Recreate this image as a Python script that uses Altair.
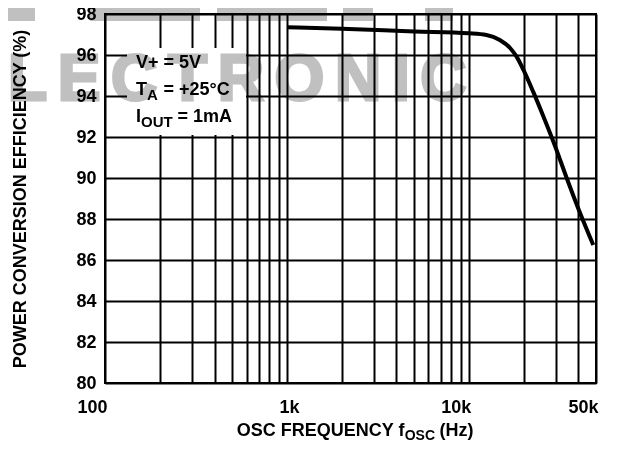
import altair as alt
import pandas as pd

# ---- data ----
FREQ = [1000, 2000, 5000, 10000, 12500, 14800, 16900, 18300, 19900, 22600, 25700, 29800, 34500, 40000, 48300]
EFF = [97.35, 97.28, 97.15, 97.06, 96.98, 96.73, 96.33, 95.92, 95.30, 94.20, 93.00, 91.55, 90.00, 88.50, 86.73]

X_GRID = [100, 200, 300, 400, 500, 600, 700, 800, 900,
          1000, 2000, 3000, 4000, 5000, 6000, 7000, 8000, 9000,
          10000, 20000, 30000, 40000, 50000]
X_LABELS = {100: "100", 1000: "1k", 10000: "10k", 50000: "50k"}
Y_TICKS = [80, 82, 84, 86, 88, 90, 92, 94, 96, 98]

FONT = "Liberation Sans"
BLACK = "#000000"
WM = "#c0c0c0"

df = pd.DataFrame({"f": FREQ, "e": EFF})

label_expr = " : ".join(
    [f"datum.value == {k} ? '{v}'" for k, v in X_LABELS.items()]
) + " : ''"

x_axis = alt.Axis(
    values=X_GRID, grid=True, gridColor=BLACK, gridWidth=2, gridOpacity=1,
    domain=False, ticks=False, labelExpr=label_expr, labelFont=FONT,
    labelFontSize=18, labelFontWeight="bold", labelColor=BLACK, labelPadding=15,
    labelOverlap=False, labelBound=False, labelFlush=False,
    labelAlign={"condition": {"test": "datum.value == 1000", "value": "center"}, "value": "right"},
    labelOffset=2, title=None,
)
y_axis = alt.Axis(
    values=Y_TICKS, grid=True, gridColor=BLACK, gridWidth=2, gridOpacity=1,
    domain=False, ticks=False, labelFont=FONT, labelFontSize=18,
    labelFontWeight="bold", labelColor=BLACK, labelPadding=9,
    title="POWER CONVERSION EFFICIENCY (%)", titleFont=FONT, titleFontSize=18,
    titleFontWeight="bold", titleColor=BLACK, titleAngle=270, titleX=-85,
    titleY=184.5, titleAlign="center", titleBaseline="middle",
)

line = alt.Chart(df).mark_line(
    color=BLACK, strokeWidth=4, interpolate="monotone", strokeCap="butt"
).encode(
    x=alt.X("f:Q", scale=alt.Scale(type="log", domain=[100, 50000], nice=False), axis=x_axis),
    y=alt.Y("e:Q", scale=alt.Scale(domain=[80, 98], nice=False, zero=False), axis=y_axis),
)

one = pd.DataFrame({"a": [0]})


def txt(s, x, y, size=18, align="left", color=BLACK, blend=None, stroke_w=0):
    kw = dict(text=s, font=FONT, fontSize=size, fontWeight="bold", color=color,
              align=align, baseline="alphabetic")
    if blend:
        kw["blend"] = blend
    if stroke_w:
        kw["stroke"] = color
        kw["strokeWidth"] = stroke_w
    return alt.Chart(one).mark_text(**kw).encode(x=alt.value(x), y=alt.value(y))


# annotation box (legend-like)
box = alt.Chart(one).mark_rect(color="white", opacity=1).encode(
    x=alt.value(22), x2=alt.value(141), y=alt.value(34), y2=alt.value(121)
)

notes = [
    txt("V+ = 5V", 31, 54),
    txt("T", 31, 81),
    txt("A", 42, 86, size=15),
    txt("= +25°C", 58.5, 81),
    txt("I", 31, 108),
    txt("OUT", 36, 113, size=15),
    txt("= 1mA", 72.5, 108),
]

xtitle = [
    txt("OSC FREQUENCY f", 131.7, 422),
    txt("OSC", 299.7, 426, size=14),
    txt("(Hz)", 334.5, 422),
]

# watermark (multiply so black lines stay black)
sp = "\u2006"
wm_text = txt(sp.join("LECTRONIC"), -97, 86, size=64, color=WM, blend="multiply", stroke_w=3)
wm_blocks = []
for a, b in [(-105, -70), (-15, 95), (112, 222), (238, 268), (320, 348)]:
    wm_blocks.append(
        alt.Chart(one).mark_rect(color=WM, blend="multiply").encode(
            x=alt.value(a), x2=alt.value(b), y=alt.value(-14), y2=alt.value(7)
        )
    )

chart = alt.layer(line, box, *notes, *xtitle, wm_text, *wm_blocks).properties(
    width=491, height=369,
    padding={"left": 97, "top": 6, "right": 14, "bottom": 59},
    autosize=alt.AutoSizeParams(type="none"),
).configure_view(stroke=BLACK, strokeWidth=2)

chart.save("out.html", embed_options={"renderer": "svg", "actions": False})
